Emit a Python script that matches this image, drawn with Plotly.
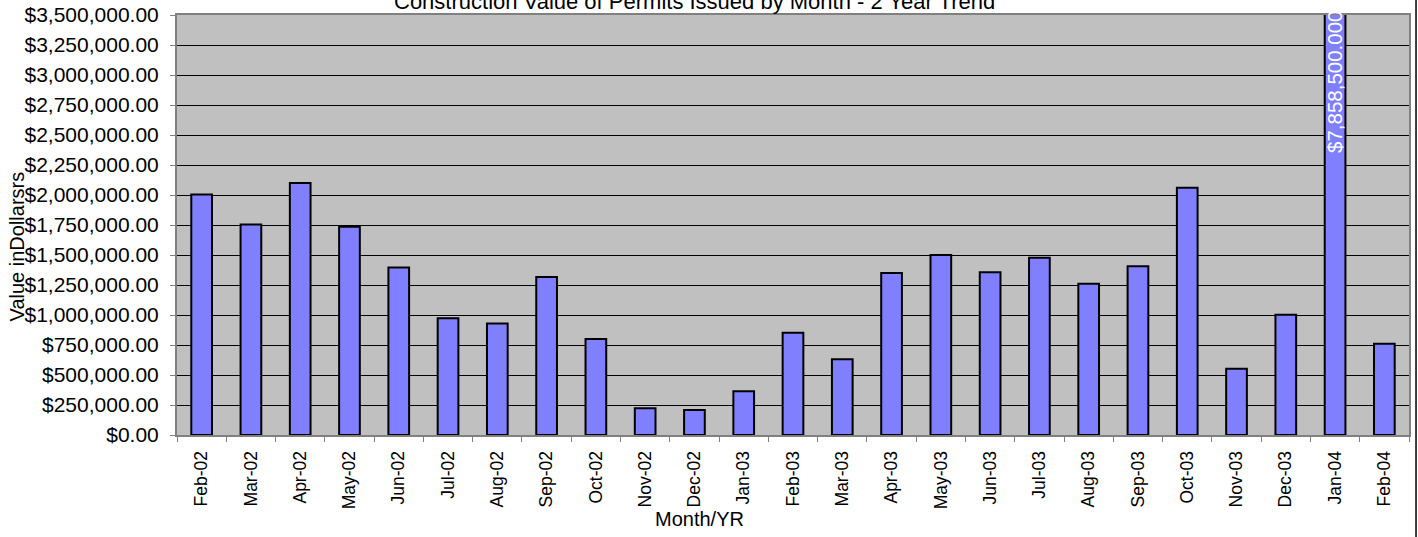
import plotly.graph_objects as go

# monthly construction value of issued permits, Feb-02 .. Feb-04
months = [
    "Feb-02", "Mar-02", "Apr-02", "May-02", "Jun-02", "Jul-02", "Aug-02",
    "Sep-02", "Oct-02", "Nov-02", "Dec-02", "Jan-03", "Feb-03", "Mar-03",
    "Apr-03", "May-03", "Jun-03", "Jul-03", "Aug-03", "Sep-03", "Oct-03",
    "Nov-03", "Dec-03", "Jan-04", "Feb-04",
]
values = [
    2005000, 1755000, 2100000, 1735000, 1395000, 972000, 930000,
    1316000, 800000, 222000, 208000, 364000, 853000, 631000,
    1350000, 1500000, 1356000, 1478000, 1261000, 1406000, 2061000,
    553000, 1003000, 7858500, 761000,
]
y_ticks = list(range(0, 3500001, 250000))

FONT = "Liberation Sans, Arial, sans-serif"

fig = go.Figure(
    go.Bar(
        x=months,
        y=values,
        marker=dict(color="#8080FF", line=dict(color="black", width=2)),
        width=0.42,
        hoverinfo="x+y",
    )
)

# the one bar that runs off the top of the axis gets its value written inside
peak_idx = values.index(max(values))
fig.add_annotation(
    x=months[peak_idx], y=2330000, xref="x", yref="y",
    text=f"${values[peak_idx]:,.3f}", textangle=-90,
    showarrow=False, yanchor="bottom", xanchor="center",
    font=dict(family=FONT, size=20.5, color="white"),
)

fig.add_annotation(
    x=0.42, y=0.997, xref="paper", yref="paper",
    text="Construction Value of Permits Issued by Month - 2 Year Trend",
    showarrow=False, yanchor="bottom", xanchor="center",
    font=dict(family=FONT, size=22, color="black"),
)
fig.add_annotation(
    x=-0.1295, y=0.45, xref="paper", yref="paper",
    text="Value inDollarsrs", textangle=-90, showarrow=False,
    xanchor="center", yanchor="middle",
    font=dict(family=FONT, size=20, color="black"),
)
fig.add_annotation(
    x=0.4245, y=-0.2, xref="paper", yref="paper",
    text="Month/YR", showarrow=False, xanchor="center", yanchor="middle",
    font=dict(family=FONT, size=20, color="black"),
)

# outer chart border on the right edge
fig.add_shape(type="line", xref="paper", yref="paper",
              x0=1.0057, x1=1.0057, y0=-0.3, y1=1.1,
              line=dict(color="black", width=1.5))

fig.update_layout(
    width=1418, height=537,
    margin=dict(l=177, r=9, t=15, b=102),
    paper_bgcolor="white",
    plot_bgcolor="#C0C0C0",
    showlegend=False,
    font=dict(family=FONT, color="black"),
)
fig.update_xaxes(
    type="category",
    automargin=False,
    tickangle=-90,
    tickfont=dict(size=17.5),
    ticks="outside", ticklen=5, tickcolor="#808080",
    ticklabelstandoff=7,
    tickson="boundaries",
    showline=True, linecolor="#808080", linewidth=2, mirror=True,
    showgrid=False,
)
fig.update_yaxes(
    range=[0, 3500000],
    automargin=False,
    tickvals=y_ticks,
    tickformat="$,.2f",
    tickfont=dict(size=21),
    ticks="outside", ticklen=5, tickcolor="#808080",
    ticklabelstandoff=7,
    showline=True, linecolor="#808080", linewidth=2, mirror=True,
    showgrid=True, gridcolor="black", gridwidth=1,
    zeroline=False,
)

# drop the browser's default body margin so the figure sits at the page origin
fig.write_html(
    "out.html",
    config={"displayModeBar": False},
    post_script="document.body.style.margin='0';",
)
